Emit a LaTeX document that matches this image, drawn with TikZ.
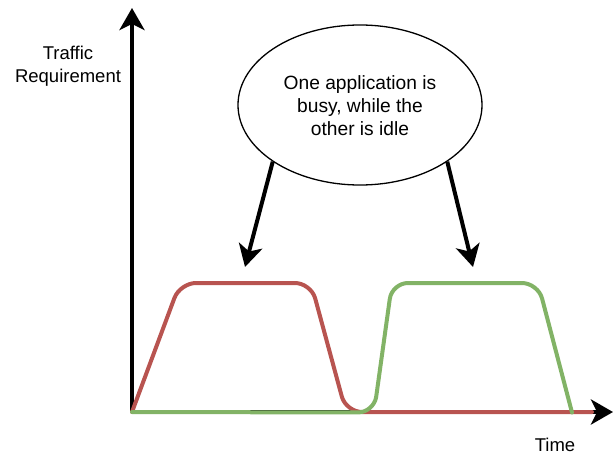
\documentclass[tikz,border=0pt]{standalone}
\usepackage{fontspec}
\setmainfont{Liberation Sans}
\usetikzlibrary{arrows.meta,shapes.geometric}
\definecolor{busyred}{HTML}{B85450}
\definecolor{idlegreen}{HTML}{82B366}
\tikzset{
  axisline/.style={line width=4pt, -{Stealth[length=22pt,width=25pt,inset=6pt]}},
  callout/.style={line width=4pt, -{Stealth[length=22pt,width=24pt,inset=6pt]}},
  load/.style={line width=4pt, rounded corners=16pt, line cap=round},
  lbl/.style={font=\fontsize{18.5}{23}\selectfont, align=center, inner sep=0pt},
  notelbl/.style={font=\fontsize{19.2}{23}\selectfont, align=center, inner sep=0pt},
}
\begin{document}
\begin{tikzpicture}[x=1pt,y=-1pt]
  \useasboundingbox (0,0) rectangle (613,455);

  % axes
  \coordinate (O) at (132,412);
  \coordinate (ytop) at (132,8);
  \coordinate (xend) at (613,412);
  \draw[axisline] (O) -- (ytop);
  \draw[axisline] (O) -- (xend);

  % traffic of the first application
  \draw[load, busyred] (O) -- (180,283) -- (311,283) -- (346,412) -- (592,412);
  % traffic of the second application
  \draw[load, idlegreen] (O) -- (374,412.5) -- (392,283) -- (538,283) -- (572,412.5);

  % axis labels
  \node[lbl] (ylabel) at (68,66) {Traffic\\Requirement};
  \node[lbl] (xlabel) at (555,445) {Time};

  % callout
  \node[draw, ellipse, line width=1.3pt, minimum width=244pt, minimum height=160pt,
        inner sep=0pt] (note) at (360,105) {};
  \node[notelbl] (notetext) at (360,106) {One application is\\busy, while the\\other is idle};
  \coordinate (tipA) at (245,267);
  \coordinate (tipB) at (473,267);
  \draw[callout] (note.213.7) -- (tipA);
  \draw[callout] (note.-33.4) -- (tipB);
\end{tikzpicture}
\end{document}
